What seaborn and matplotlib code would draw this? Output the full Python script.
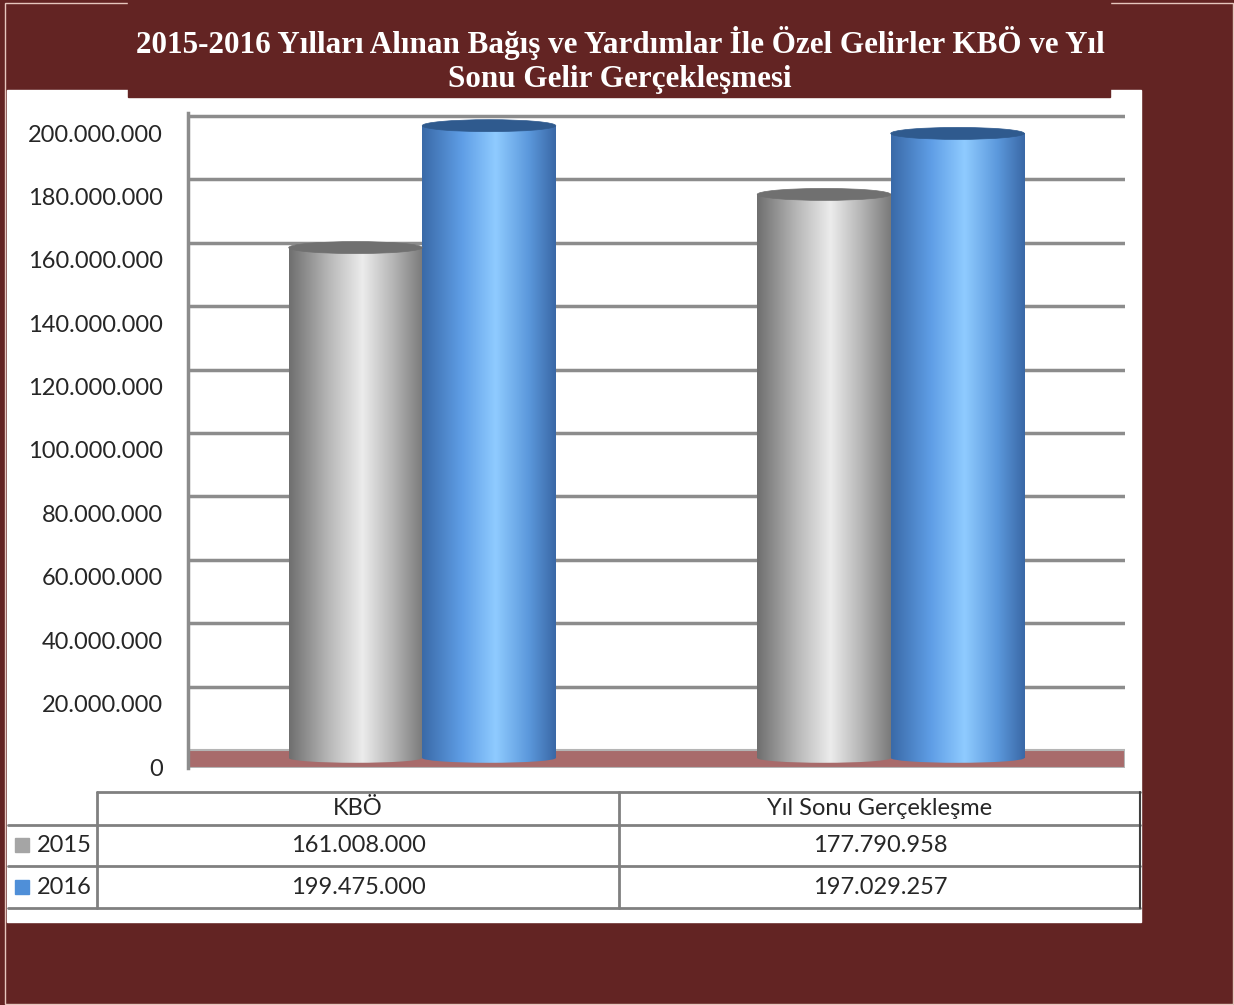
import matplotlib
matplotlib.use('Agg')
import matplotlib.pyplot as plt
import matplotlib.transforms as mtransforms
from matplotlib.patches import Rectangle, Ellipse
import numpy as np
import pandas as pd
import seaborn as sns

title = "2015-2016 Yılları Alınan Bağış ve Yardımlar İle Özel Gelirler KBÖ ve Yıl\nSonu Gelir Gerçekleşmesi"
categories = ["KBÖ", "Yıl Sonu Gerçekleşme"]
years = ["2015", "2016"]
values_2015 = [161008000, 177790958]
values_2016 = [199475000, 197029257]
yticks = list(range(0, 200000001, 20000000))


def fmt(v):
    return f"{v:,}".replace(",", ".")


def gradient(stops, n=200):
    pos = np.array([s[0] for s in stops])
    cols = np.array([matplotlib.colors.to_rgb(s[1]) for s in stops])
    xs = np.linspace(0, 1, n)
    rgb = np.stack([np.interp(xs, pos, cols[:, i]) for i in range(3)], axis=-1)
    return rgb[np.newaxis, :, :]


sns.set_style("white")
plt.rcParams['font.family'] = ['Lato', 'DejaVu Sans']

W, H = 1234, 1005
maroon = "#632423"
grid_c = "#8c8c8c"
fig = plt.figure(figsize=(W / 100, H / 100), dpi=100)
fig.patch.set_facecolor(maroon)

# background panels
bg = fig.add_axes([0, 0, 1, 1])
bg.set_xlim(0, W)
bg.set_ylim(H, 0)
bg.axis('off')
bg.add_patch(Rectangle((5, 3), 1228, 1001, fill=False, ec='#e6c6bd', lw=1))
bg.add_patch(Rectangle((7, 90), 1134, 832, color='white'))
bg.add_patch(Rectangle((128, 0), 982, 97, color=maroon))
bg.text(620, 60, title, ha='center', va='center', color='white', fontsize=22.4,
        fontweight='bold', family='Liberation Serif', linespacing=1.25)

# main chart axes (pixel layout)
zero_px, top_px, bot_px = 758, 113, 768
scale = 634 / 200e6
ax = fig.add_axes([188 / W, 1 - bot_px / H, (1125 - 188) / W, (bot_px - top_px) / H])
ax.patch.set_alpha(0)
ylo, yhi = -(bot_px - zero_px) / scale, (zero_px - top_px) / scale
back = 8 / scale

df = pd.DataFrame({
    "cat": categories * 2,
    "year": [years[0]] * 2 + [years[1]] * 2,
    "value": values_2015 + values_2016,
})
sns.barplot(data=df, x="cat", y="value", hue="year", palette=["#a5a5a5", "#4f8fd8"],
            width=0.57, saturation=1, ax=ax, legend=False, zorder=3, linewidth=0)
bars = list(ax.patches)

for t in yticks[1:]:
    ax.axhline(t + back, color=grid_c, lw=2.5, zorder=1)
ax.axhspan(ylo, back, facecolor="#a86b6b", edgecolor="#b5b5b5", lw=1.5, zorder=2)

grads = [
    gradient([(0, "#6f6f6f"), (0.3, "#b8b8b8"), (0.55, "#ececec"), (0.8, "#b0b0b0"), (1, "#7a7a7a")]),
    gradient([(0, "#3a6aa8"), (0.3, "#5f9ee6"), (0.55, "#8fcbff"), (0.8, "#5b98dc"), (1, "#3a68a6")]),
]
tops = ["#707070", "#2f5a8e"]
eh = 12 / scale
for i, p in enumerate(bars):
    k = i // 2
    x, w, h = p.get_x(), p.get_width(), p.get_height()
    im = ax.imshow(grads[k], extent=[x, x + w, 0, h], aspect='auto', zorder=4,
                   interpolation='bilinear')
    im.set_clip_path(p)
    base = Ellipse((x + w / 2, 0), w, eh * 0.8, facecolor='none', edgecolor='none', zorder=3.5)
    ax.add_patch(base)
    im2 = ax.imshow(grads[k], extent=[x, x + w, -eh / 2, eh / 2], aspect='auto', zorder=3.6,
                    interpolation='bilinear')
    im2.set_clip_path(base)
    ax.add_patch(Ellipse((x + w / 2, h), w, eh, facecolor=tops[k], edgecolor=tops[k],
                         lw=0.5, zorder=5))

ax.set_xlim(-0.5, 1.5)
ax.set_ylim(ylo, yhi)
ax.set_xlabel("")
ax.set_ylabel("")
ax.set_xticks([])
ax.set_yticks(yticks)
ax.set_yticklabels([fmt(t) for t in yticks], fontsize=17)
ax.tick_params(axis='y', length=0, pad=18)
shift = mtransforms.ScaledTranslation(0, -9 / 100, fig.dpi_scale_trans)
for lab in ax.get_yticklabels():
    lab.set_transform(lab.get_transform() + shift)
for s in ["top", "right", "bottom"]:
    ax.spines[s].set_visible(False)
ax.spines["left"].set_color(grid_c)
ax.spines["left"].set_linewidth(2.5)

# data table
line_c = "#808080"
bg.plot([97, 1140], [792, 792], color=line_c, lw=2)
for y in [825, 866, 908]:
    bg.plot([8, 1140], [y, y], color=line_c, lw=2)
for x in [97, 619]:
    bg.plot([x, x], [792, 908], color=line_c, lw=2)
bg.plot([1140, 1140], [792, 908], color="#404040", lw=1.5)
col_x = [358, 880]
for cx, c in zip(col_x, categories):
    bg.text(cx, 808, c, ha='center', va='center', fontsize=17)
key_cols = ["#a5a5a5", "#4f8fd8"]
for ry, yr, vals, kc in zip([845, 887], years, [values_2015, values_2016], key_cols):
    bg.add_patch(Rectangle((15, ry - 7), 14, 14, color=kc))
    bg.text(37, ry, yr, ha='left', va='center', fontsize=17)
    for cx, v in zip(col_x, vals):
        bg.text(cx, ry, fmt(v), ha='center', va='center', fontsize=17)

fig.savefig("out.png", dpi=100, facecolor=maroon)
